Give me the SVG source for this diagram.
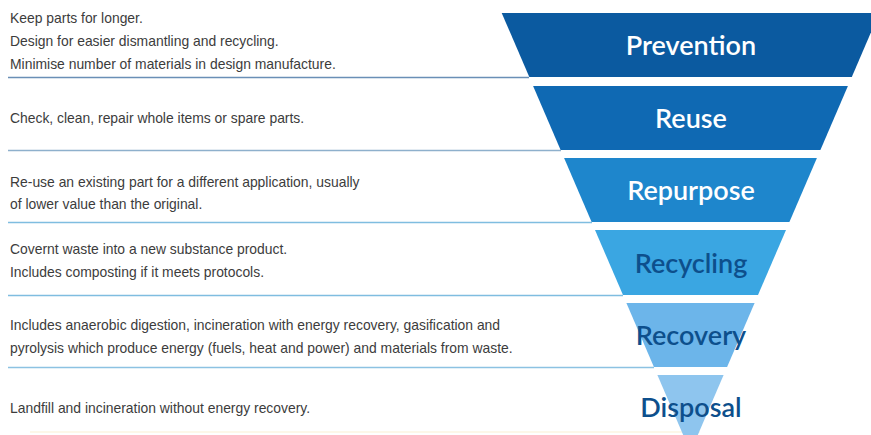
<svg xmlns="http://www.w3.org/2000/svg" width="871" height="435" viewBox="0 0 871 435">
<style>
.desc{font-family:"Liberation Sans",Arial,sans-serif;font-size:13.9px;fill:#3c3c3c}
.lbl{font-family:Lato,"Noto Sans",sans-serif;font-size:27px;font-weight:600;text-anchor:middle}
.w{fill:#ffffff}
.d{fill:#0d4f8c}
.sep{stroke-width:1.6;fill:none}
</style>
<rect width="871" height="435" fill="#ffffff"/>
<g id="connectors">
<line class="sep" x1="8" y1="77.5" x2="529" y2="77.5" stroke="#6a8fb6"/>
<line class="sep" x1="8" y1="150.5" x2="561" y2="150.5" stroke="#8eb0cc"/>
<line class="sep" x1="8" y1="222.5" x2="592" y2="222.5" stroke="#7fbde0"/>
<line class="sep" x1="8" y1="295.5" x2="623" y2="295.5" stroke="#7fbde0"/>
<line class="sep" x1="8" y1="367.5" x2="654" y2="367.5" stroke="#8cc2e2"/>
<line class="sep" x1="30" y1="432" x2="700" y2="432" stroke="#fcf4e2"/>
</g>
<g id="prevention">
<polygon points="501.7,13 879.3,13 851.8,77 529.3,77" fill="#0b5aa0"/>
<text class="lbl w" x="691" y="55">Prevention</text>
<text class="desc" x="10" y="23">Keep parts for longer.</text>
<text class="desc" x="10" y="46">Design for easier dismantling and recycling.</text>
<text class="desc" x="10" y="69">Minimise number of materials in design manufacture.</text>
</g>
<g id="reuse">
<polygon points="533.1,86 847.9,86 820.4,150 560.6,150" fill="#0f69b3"/>
<text class="lbl w" x="691" y="128">Reuse</text>
<text class="desc" x="10" y="123">Check, clean, repair whole items or spare parts.</text>
</g>
<g id="repurpose">
<polygon points="564.1,158 816.9,158 789.4,222 591.6,222" fill="#1e86cc"/>
<text class="lbl w" x="691" y="200">Repurpose</text>
<text class="desc" x="10" y="187">Re-use an existing part for a different application, usually</text>
<text class="desc" x="10" y="209">of lower value than the original.</text>
</g>
<g id="recycling">
<polygon points="595,230 786,230 758,295 623,295" fill="#3aa6e2"/>
<text class="lbl d" x="691" y="273">Recycling</text>
<text class="desc" x="10" y="254">Covernt waste into a new substance product.</text>
<text class="desc" x="10" y="277">Includes composting if it meets protocols.</text>
</g>
<g id="recovery">
<polygon points="626.4,303 754.6,303 727.1,367 653.9,367" fill="#6cb5ea"/>
<text class="lbl d" x="691" y="345">Recovery</text>
<text class="desc" x="10" y="330">Includes anaerobic digestion, incineration with energy recovery, gasification and</text>
<text class="desc" x="10" y="353">pyrolysis which produce energy (fuels, heat and power) and materials from waste.</text>
</g>
<g id="disposal">
<polygon points="657.4,375 723.6,375 690.5,452" fill="#8ec5ee"/>
<text class="lbl d" x="691" y="417">Disposal</text>
<text class="desc" x="10" y="413">Landfill and incineration without energy recovery.</text>
</g>
</svg>
